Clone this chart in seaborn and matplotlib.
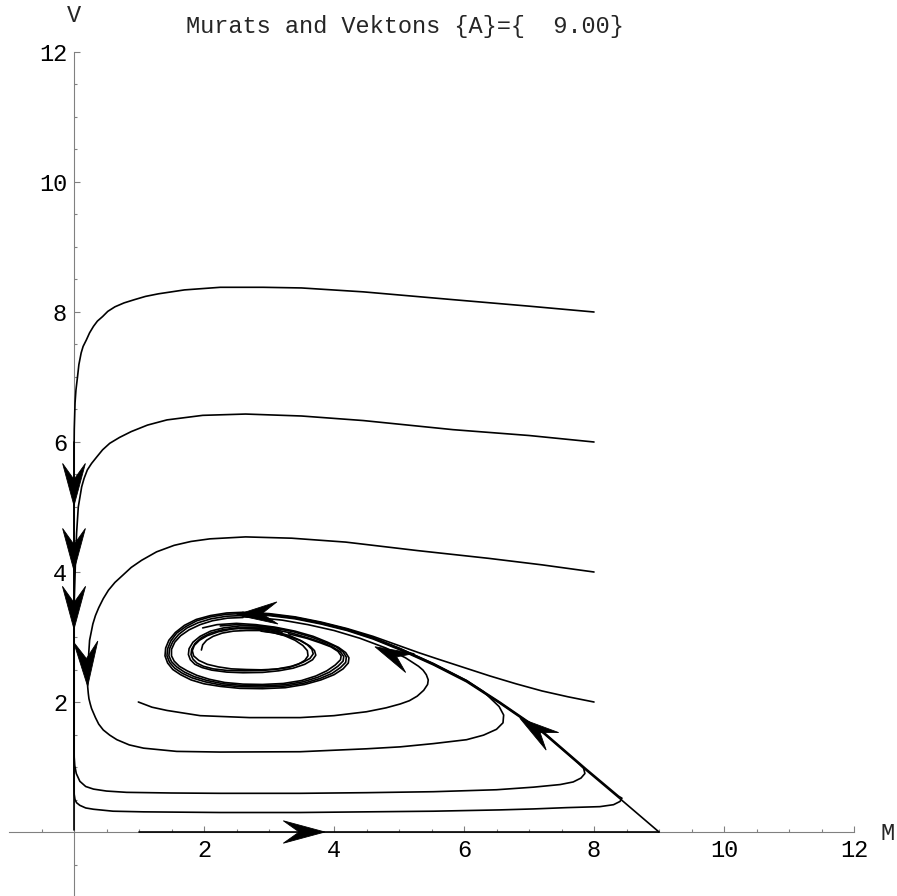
import numpy as np
import pandas as pd
import matplotlib
matplotlib.use("Agg")
import matplotlib.pyplot as plt
import seaborn as sns
from matplotlib.patches import Polygon
from matplotlib.ticker import FixedLocator

sns.set_style("white")
plt.rcParams['font.family'] = ['Liberation Mono', 'DejaVu Sans']

# ---------------- data (M, V) ----------------
title_text = "Murats and Vektons {A}={  9.00}"
x_label = "M"
y_label = "V"
major_ticks = [2, 4, 6, 8, 10, 12]
major_labels = ["2", "4", "6", "8", "10", "12"]
minor_ticks = [-0.5, 0.5, 1, 1.5, 2.5, 3, 3.5, 4.5, 5, 5.5, 6.5, 7, 7.5, 8.5, 9, 9.5,
               10.5, 11, 11.5]

traj_v_axis = [(0.0, 6.0), (0.0, 0.03)]
traj_m_axis = [(1.0, 0.0), (9.0, 0.0)]

traj_8_8 = [(8.00, 8.00), (7.00, 8.09), (5.83, 8.19), (4.45, 8.31), (3.50, 8.37), (2.91, 8.38),
            (2.25, 8.38), (1.70, 8.34), (1.30, 8.28), (1.10, 8.24), (0.93, 8.19), (0.77, 8.14),
            (0.63, 8.08), (0.52, 8.01), (0.44, 7.93), (0.36, 7.86), (0.30, 7.78), (0.24, 7.68),
            (0.19, 7.57), (0.14, 7.47), (0.11, 7.37), (0.075, 7.19), (0.055, 7.01), (0.030, 6.80),
            (0.016, 6.60), (0.004, 6.20),
            (0.0, 5.80), (0.0, 1.40), (0.003, 1.15), (0.012, 1.02), (0.035, 0.90), (0.09, 0.78),
            (0.18, 0.70), (0.30, 0.66), (0.50, 0.63), (0.81, 0.61), (1.50, 0.60), (2.25, 0.595),
            (3.48, 0.595), (4.50, 0.605), (5.53, 0.62), (6.50, 0.65), (7.07, 0.69), (7.48, 0.73),
            (7.68, 0.77), (7.80, 0.83), (7.86, 0.90), (7.84, 0.98), (7.75, 1.07), (7.22, 1.53),
            (6.55, 1.99), (6.04, 2.32), (5.53, 2.58), (5.02, 2.81), (4.60, 2.98), (4.20, 3.11),
            (3.80, 3.21), (3.40, 3.29), (3.00, 3.34), (2.60, 3.36)]

traj_8_6 = [(8.00, 6.00), (7.00, 6.10), (5.83, 6.19), (4.45, 6.33), (3.50, 6.40), (2.64, 6.43),
            (1.98, 6.41), (1.43, 6.34), (1.13, 6.26), (0.88, 6.16), (0.70, 6.07), (0.55, 5.98),
            (0.44, 5.88), (0.35, 5.77), (0.27, 5.67), (0.205, 5.57), (0.155, 5.44),
            (0.118, 5.31), (0.066, 5.00), (0.04, 4.60), (0.02, 4.08), (0.005, 3.60), (0.0, 3.20),
            (0.0, 0.70), (0.003, 0.58), (0.015, 0.50), (0.04, 0.45), (0.09, 0.41), (0.18, 0.37),
            (0.30, 0.35), (0.60, 0.32), (1.07, 0.31), (2.25, 0.30), (3.48, 0.30), (4.50, 0.31),
            (5.53, 0.32), (6.55, 0.34), (7.07, 0.355), (7.58, 0.375), (8.09, 0.39), (8.30, 0.42),
            (8.40, 0.47), (8.43, 0.52), (8.38, 0.55), (7.88, 0.97), (7.22, 1.54), (6.55, 2.00),
            (6.04, 2.33), (5.53, 2.59), (5.02, 2.82), (4.60, 2.99), (4.20, 3.12), (3.80, 3.22),
            (3.40, 3.30), (3.00, 3.35), (2.60, 3.37)]

traj_8_4 = [(8.00, 4.00), (7.20, 4.11), (6.38, 4.21), (5.28, 4.33), (4.18, 4.46), (3.35, 4.52),
            (2.64, 4.54), (2.09, 4.51), (1.80, 4.47), (1.54, 4.41), (1.27, 4.31), (1.04, 4.18),
            (0.88, 4.07), (0.75, 3.95), (0.63, 3.84), (0.53, 3.72), (0.45, 3.59),
            (0.38, 3.45), (0.33, 3.33), (0.29, 3.20), (0.24, 2.95), (0.22, 2.65), (0.21, 2.40),
            (0.21, 2.24), (0.22, 2.13), (0.23, 2.05), (0.25, 1.97), (0.27, 1.90), (0.33, 1.76),
            (0.38, 1.66), (0.45, 1.57), (0.55, 1.49), (0.66, 1.42), (0.85, 1.34), (1.07, 1.29),
            (1.58, 1.24), (2.25, 1.23), (3.48, 1.235), (4.50, 1.28), (5.02, 1.31), (5.53, 1.36),
            (6.04, 1.42), (6.30, 1.49), (6.50, 1.58), (6.60, 1.68), (6.61, 1.80), (6.54, 1.93),
            (6.30, 2.16), (6.04, 2.33), (5.53, 2.59), (5.02, 2.82), (4.60, 2.99), (4.20, 3.12),
            (3.80, 3.22), (3.40, 3.30), (3.00, 3.34), (2.60, 3.36)]

traj_8_2 = [(8.00, 2.00), (7.60, 2.08), (7.20, 2.17), (6.80, 2.28), (6.40, 2.40), (6.00, 2.53),
            (5.60, 2.66), (5.30, 2.76), (5.02, 2.86), (4.60, 3.01), (4.20, 3.13), (3.80, 3.23),
            (3.40, 3.31), (3.00, 3.36), (2.60, 3.38)]

traj_1_2 = [(0.99, 2.00), (1.20, 1.92), (1.43, 1.87), (1.94, 1.79), (2.70, 1.76), (3.48, 1.76),
            (4.00, 1.79), (4.50, 1.85), (4.80, 1.91), (5.02, 1.97), (5.16, 2.02), (5.28, 2.09),
            (5.38, 2.18), (5.44, 2.27), (5.45, 2.34), (5.42, 2.42), (5.37, 2.49), (5.30, 2.55),
            (5.10, 2.68), (4.80, 2.83), (4.40, 2.98), (4.00, 3.10),
            (3.60, 3.19), (3.20, 3.26), (2.80, 3.30), (2.60, 3.31)]

traj_saddle = [(9.00, 0.00), (8.45, 0.47), (7.88, 0.95), (7.22, 1.52), (6.55, 1.98), (6.04, 2.31),
               (5.53, 2.57), (5.02, 2.80), (4.60, 2.97), (4.20, 3.10), (3.80, 3.20), (3.40, 3.28),
               (3.00, 3.33), (2.60, 3.35)]

loop_a = [(2.60, 3.38), (2.35, 3.37), (2.10, 3.33), (1.88, 3.27), (1.70, 3.18), (1.56, 3.07),
          (1.46, 2.95), (1.41, 2.83), (1.40, 2.71), (1.44, 2.60), (1.52, 2.50), (1.64, 2.42),
          (1.80, 2.34), (2.00, 2.28), (2.25, 2.24), (2.55, 2.21), (2.90, 2.205), (3.25, 2.22),
          (3.55, 2.27), (3.80, 2.34), (4.00, 2.42), (4.14, 2.51), (4.22, 2.60), (4.23, 2.68),
          (4.18, 2.76), (4.07, 2.84), (3.90, 2.92), (3.68, 3.01), (3.40, 3.09), (3.10, 3.15),
          (2.80, 3.19), (2.50, 3.21), (2.20, 3.19), (1.98, 3.14)]
loop_b = [(2.60, 3.36), (2.35, 3.35), (2.10, 3.31), (1.89, 3.25), (1.72, 3.16), (1.58, 3.06),
          (1.49, 2.94), (1.44, 2.82), (1.43, 2.71), (1.47, 2.61), (1.55, 2.52), (1.67, 2.44),
          (1.82, 2.37), (2.02, 2.31), (2.27, 2.26), (2.57, 2.235), (2.90, 2.23), (3.25, 2.245),
          (3.54, 2.29), (3.78, 2.36), (3.97, 2.44), (4.10, 2.53), (4.18, 2.61), (4.19, 2.69),
          (4.14, 2.77), (4.03, 2.85), (3.86, 2.92), (3.65, 3.00), (3.38, 3.08), (3.08, 3.14),
          (2.80, 3.17), (2.50, 3.19), (2.25, 3.17)]
loop_c = [(2.60, 3.33), (2.35, 3.32), (2.11, 3.28), (1.91, 3.22), (1.74, 3.14), (1.61, 3.04),
          (1.52, 2.93), (1.47, 2.82), (1.46, 2.71), (1.50, 2.62), (1.58, 2.54), (1.70, 2.46),
          (1.85, 2.39), (2.05, 2.33), (2.30, 2.28), (2.59, 2.255), (2.90, 2.25), (3.24, 2.265),
          (3.52, 2.31), (3.75, 2.38), (3.93, 2.46), (4.06, 2.55), (4.14, 2.63), (4.15, 2.70),
          (4.10, 2.77), (3.99, 2.84), (3.83, 2.91), (3.62, 2.98), (3.35, 3.06), (3.05, 3.12),
          (2.85, 3.14)]
loop_d = [(2.60, 3.30), (2.36, 3.29), (2.13, 3.25), (1.94, 3.19), (1.77, 3.11), (1.64, 3.02),
          (1.55, 2.92), (1.50, 2.81), (1.50, 2.71), (1.54, 2.63), (1.62, 2.55), (1.74, 2.48),
          (1.89, 2.41), (2.08, 2.35), (2.32, 2.30), (2.60, 2.275), (2.90, 2.27), (3.22, 2.285),
          (3.50, 2.33), (3.72, 2.40), (3.89, 2.48), (4.02, 2.57), (4.10, 2.65), (4.11, 2.71),
          (4.06, 2.78), (3.95, 2.85), (3.79, 2.91), (3.58, 2.98), (3.30, 3.05)]
inner_a = [(3.30, 3.10), (3.05, 3.15), (2.80, 3.17), (2.55, 3.17), (2.30, 3.14), (2.10, 3.09),
           (1.94, 3.01), (1.83, 2.92), (1.77, 2.82), (1.76, 2.73), (1.79, 2.65), (1.86, 2.58),
           (1.97, 2.53), (2.12, 2.49), (2.35, 2.46), (2.60, 2.45), (2.90, 2.455), (3.15, 2.48),
           (3.37, 2.52), (3.55, 2.58), (3.67, 2.65), (3.72, 2.72), (3.70, 2.79), (3.63, 2.86),
           (3.50, 2.94), (3.32, 3.02), (3.10, 3.08), (2.85, 3.12), (2.55, 3.13)]
inner_b = [(3.20, 3.07), (2.98, 3.12), (2.75, 3.14), (2.50, 3.14), (2.28, 3.11), (2.10, 3.06),
           (1.96, 2.99), (1.86, 2.90), (1.81, 2.81), (1.80, 2.73), (1.83, 2.66), (1.89, 2.60),
           (1.99, 2.55), (2.14, 2.51), (2.36, 2.485), (2.62, 2.48), (2.90, 2.485), (3.14, 2.51),
           (3.35, 2.55), (3.52, 2.61), (3.63, 2.67), (3.68, 2.74), (3.66, 2.81), (3.59, 2.88),
           (3.47, 2.95), (3.30, 3.01), (3.10, 3.06), (2.88, 3.09)]
spiral = [(1.96, 2.80), (1.98, 2.88), (2.04, 2.95), (2.14, 3.01), (2.28, 3.06), (2.45, 3.09),
          (2.65, 3.10), (2.85, 3.10), (3.05, 3.07), (3.24, 3.02), (3.40, 2.95), (3.52, 2.87),
          (3.59, 2.79), (3.60, 2.71), (3.55, 2.64), (3.45, 2.58), (3.30, 2.53), (3.10, 2.505),
          (2.88, 2.495), (2.65, 2.50), (2.42, 2.51), (2.22, 2.54), (2.05, 2.58), (1.92, 2.64),
          (1.84, 2.71), (1.82, 2.79), (1.85, 2.87), (1.93, 2.95), (2.05, 3.02), (2.22, 3.08),
          (2.42, 3.12), (2.65, 3.14), (2.90, 3.14), (3.15, 3.11)]

# arrowheads: tip and base-centre points (M, V)
arrow_tip_m = [0.00, 0.00, 0.00, 0.21, 3.86, 6.86, 4.63, 2.50]
arrow_tip_v = [5.02, 4.02, 3.12, 2.24, 0.00, 1.75, 2.85, 3.34]
arrow_base_m = [0.00, 0.00, 0.00, 0.18, 3.22, 7.36, 5.17, 3.13]
arrow_base_v = [5.67, 4.67, 3.78, 2.93, 0.00, 1.395, 2.60, 3.37]

trajectories = {
    "v_axis": traj_v_axis, "m_axis": traj_m_axis, "t88": traj_8_8, "t86": traj_8_6,
    "t84": traj_8_4, "t82": traj_8_2, "t12": traj_1_2, "saddle": traj_saddle,
    "loop_a": loop_a, "loop_b": loop_b, "loop_c": loop_c, "loop_d": loop_d,
    "inner_a": inner_a, "inner_b": inner_b, "spiral": spiral,
}

rows = []
for name, pts in trajectories.items():
    for i, (m, v) in enumerate(pts):
        rows.append({"traj": name, "order": i, "M": m, "V": v})
df = pd.DataFrame(rows)

# ---------------- figure ----------------
W, H = 897, 896
fig = plt.figure(figsize=(W / 100, H / 100), dpi=100)
ax = fig.add_axes([9 / W, (H - 897) / H, 845 / W, 845 / H])

sns.lineplot(data=df, x="M", y="V", units="traj", estimator=None, sort=False,
             color="black", linewidth=1.2, ax=ax, legend=False, zorder=3)

ax.set_xlim(-1, 12)
ax.set_ylim(-1, 12)
ax.set_xlabel("")
ax.set_ylabel("")

axis_grey = "#808080"
for s in ["top", "right"]:
    ax.spines[s].set_visible(False)
ax.spines["left"].set_position(("data", 0))
ax.spines["bottom"].set_position(("data", 0))
ax.spines["left"].set_bounds(-1, 12)
ax.spines["bottom"].set_bounds(-1, 12)
for s in ["left", "bottom"]:
    ax.spines[s].set_color(axis_grey)
    ax.spines[s].set_linewidth(0.8)
    ax.spines[s].set_zorder(1)

ax.xaxis.set_major_locator(FixedLocator(major_ticks))
ax.yaxis.set_major_locator(FixedLocator(major_ticks))
ax.xaxis.set_minor_locator(FixedLocator(minor_ticks))
ax.yaxis.set_minor_locator(FixedLocator(minor_ticks))
ax.set_xticklabels(major_labels)
ax.set_yticklabels(major_labels)
ax.tick_params(which="both", bottom=True, left=True, top=False, right=False,
               direction="in", color=axis_grey, width=0.8,
               labelsize=17, labelcolor="black")
ax.tick_params(which="major", length=4.3)
ax.tick_params(which="minor", length=2.4)
ax.tick_params(axis="x", which="major", pad=5)
ax.tick_params(axis="y", which="major", pad=5)
ax.set_facecolor("white")
ax.grid(False)

# arrowheads
for tm, tv, bm, bv in zip(arrow_tip_m, arrow_tip_v, arrow_base_m, arrow_base_v):
    d = np.array([bm - tm, bv - tv])
    L = np.hypot(*d)
    u = d / L
    n = np.array([-u[1], u[0]])
    tip = np.array([tm, tv])
    barb1 = tip + u * L + n * 0.27 * L
    barb2 = tip + u * L - n * 0.27 * L
    notch = tip + u * 0.62 * L
    ax.add_patch(Polygon([tip, barb1, notch, barb2], closed=True, facecolor="black",
                         edgecolor="black", linewidth=0.6, zorder=4, joinstyle="miter"))

fig.text(405 / W, 1 - 27 / H, title_text, ha="center", va="center", fontsize=17)
fig.text(74 / W, 1 - 16 / H, y_label, ha="center", va="center", fontsize=17)
fig.text(880 / W, 1 - 833 / H, x_label, ha="left", va="center", fontsize=17)

fig.savefig("out.png", dpi=100, facecolor="white")
